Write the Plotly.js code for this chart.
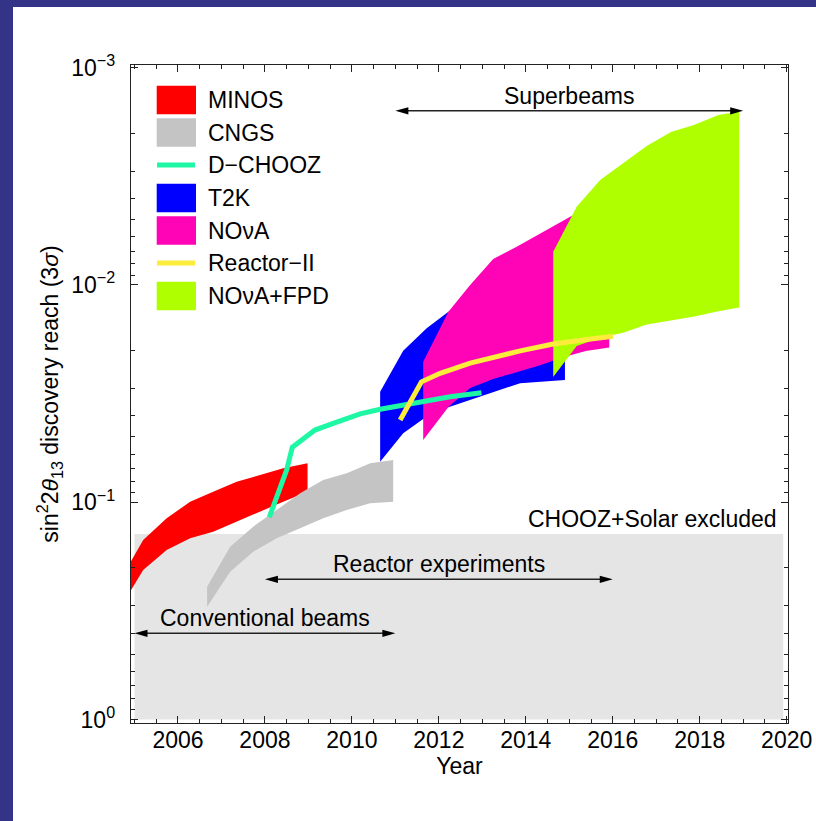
<!DOCTYPE html>
<html><head><meta charset="utf-8">
<script src="https://cdn.plot.ly/plotly-3.0.1.min.js"></script>
<style>
html,body{margin:0;padding:0;background:#fff;overflow:hidden;}
#wrap{width:803px;height:814px;border-top:7px solid #333388;border-left:13px solid #333388;}
#chart{width:803px;height:814px;}
</style></head><body><div id="wrap"><div id="chart"></div></div>
<script>
// ---------------- data ----------------
const excludedYears = [2005.0, 2019.92];
const excludedLimit = [0.14, 0.14];
const excludedMax = [1.0, 1.0];

const minosYears = [2004.90, 2005.20, 2005.74, 2006.28, 2006.81, 2007.35, 2007.89, 2008.42, 2008.98];
const minosBest  = [0.190, 0.149, 0.1185, 0.0994, 0.0894, 0.0804, 0.0749, 0.0697, 0.0662];
const minosWorst = [0.258, 0.205, 0.166, 0.1465, 0.1366, 0.1228, 0.1105, 0.0994, 0.0894];

const cngsYears = [2006.67, 2007.20, 2007.73, 2008.27, 2008.81, 2009.34, 2009.88, 2010.42, 2010.95];
const cngsBest  = [0.2446, 0.1601, 0.1295, 0.1085, 0.0909, 0.0790, 0.0736, 0.0662, 0.0639];
const cngsWorst = [0.3022, 0.2086, 0.1688, 0.1465, 0.1317, 0.1185, 0.1085, 0.1011, 0.0994];

const dchoozYears = [2008.10, 2008.31, 2008.50, 2008.63, 2009.15, 2009.57, 2010.19, 2010.65, 2011.18, 2011.72, 2012.26, 2012.98];
const dchoozReach = [0.1172, 0.0909, 0.0710, 0.0558, 0.0465, 0.0433, 0.0392, 0.0373, 0.0357, 0.0342, 0.0327, 0.0313];

const t2kYears = [2010.65, 2011.18, 2011.72, 2012.22, 2012.83, 2013.87, 2014.90];
const t2kBest  = [0.0310, 0.02006, 0.01582, 0.01327, 0.01172, 0.0100, 0.0090];
const t2kWorst = [0.0650, 0.0481, 0.0403, 0.0365, 0.0333, 0.0283, 0.0274];

const novaYears = [2011.64, 2012.22, 2012.72, 2013.25, 2013.79, 2014.33, 2014.86, 2015.38, 2015.92];
const novaBest  = [0.02254, 0.01327, 0.0100, 0.00759, 0.00666, 0.00578, 0.00502, 0.00442, 0.00398];
const novaWorst = [0.0517, 0.0364, 0.0298, 0.0271, 0.0252, 0.0234, 0.0215, 0.0201, 0.0194];

const reactor2Years = [2011.11, 2011.34, 2011.60, 2012.03, 2012.72, 2013.87, 2014.63, 2015.40, 2016.01];
const reactor2Reach = [0.0418, 0.0344, 0.0279, 0.0255, 0.0229, 0.0201, 0.0187, 0.0178, 0.0172];

const fpdYears = [2014.63, 2015.17, 2015.71, 2016.24, 2016.78, 2017.35, 2017.85, 2018.43, 2018.91];
const fpdBest  = [0.00703, 0.00436, 0.00329, 0.00275, 0.00229, 0.00197, 0.00184, 0.00165, 0.00159];
const fpdWorst = [0.0265, 0.0191, 0.0175, 0.0166, 0.0152, 0.0145, 0.0140, 0.0132, 0.0127];

const xTickVals = [2006, 2008, 2010, 2012, 2014, 2016, 2018, 2020];
const yTickVals = [0.001, 0.01, 0.1, 1];
const yTickText = ['10<sup>\u22123</sup>', '10<sup>\u22122</sup>', '10<sup>\u22121</sup>', '10<sup>0</sup>'];

const legendNames = ['MINOS', 'CNGS', 'D\u2212CHOOZ', 'T2K', 'NO\u03bdA', 'Reactor\u2212II', 'NO\u03bdA+FPD'];
const legendKinds = ['box', 'box', 'line', 'box', 'box', 'line', 'box'];

// arrows: [from year, to year, sin^2 value]
const arrowDefs = [
  {label: 'Superbeams', x0: 2011, x1: 2019, y: 0.00158},
  {label: 'Reactor experiments', x0: 2008, x1: 2016, y: 0.2262},
  {label: 'Conventional beams', x0: 2005, x1: 2011, y: 0.4007}
];

// ---------------- styling ----------------
const C = {
  excl: '#e5e5e5', minos: '#ff0000', cngs: '#c4c4c4', dchooz: '#1ef7a4',
  t2k: '#0000ff', nova: '#ff03b6', reactor: '#fcec3c', fpd: '#afff00'
};
const legendColors = [C.minos, C.cngs, C.dchooz, C.t2k, C.nova, C.reactor, C.fpd];
const FONT = 'Liberation Sans, Arial, Helvetica, sans-serif';
const FS = 23;
const Y_RANGE = [0.0157, -3.0124];
const X_RANGE = [2004.92, 2020.03];

function band(name, xs, lo, hi, color) {
  return {type: 'scatter', mode: 'lines', name: name,
    x: xs.concat(xs.slice().reverse()),
    y: lo.concat(hi.slice().reverse()),
    fill: 'toself', fillcolor: color, line: {width: 0, color: color},
    hoverinfo: 'skip', showlegend: false};
}
function curve(name, xs, ys, color) {
  return {type: 'scatter', mode: 'lines', name: name, x: xs, y: ys,
    line: {width: 5, color: color, shape: 'linear'}, hoverinfo: 'skip', showlegend: false};
}

const traces = [
  band('CHOOZ+Solar excluded', excludedYears, excludedLimit, excludedMax, C.excl),
  band('MINOS', minosYears, minosBest, minosWorst, C.minos),
  band('CNGS', cngsYears, cngsBest, cngsWorst, C.cngs),
  band('T2K', t2kYears, t2kBest, t2kWorst, C.t2k),
  band('NOvA', novaYears, novaBest, novaWorst, C.nova),
  band('NOvA+FPD', fpdYears, fpdBest, fpdWorst, C.fpd),
  curve('D-CHOOZ', dchoozYears, dchoozReach, C.dchooz),
  curve('Reactor-II', reactor2Years, reactor2Reach, C.reactor)
];

// helpers: plot-area pixel -> paper
const L = 131, T = 65, W = 657, H = 658;
const PX = p => (p - L) / W;
const PY = p => (T + H - p) / H;
const yPaper = v => (Math.log10(v) - Y_RANGE[0]) / (Y_RANGE[1] - Y_RANGE[0]);

const shapes = [];
const annotations = [];

// arrows
const headLen = 13 / (W / (X_RANGE[1] - X_RANGE[0]));
const headHalf = 3.6 / H;
arrowDefs.forEach(a => {
  const yp = yPaper(a.y);
  shapes.push({type: 'line', xref: 'x', yref: 'paper', x0: a.x0 + headLen * 0.5, x1: a.x1 - headLen * 0.5, y0: yp, y1: yp,
    line: {color: '#222', width: 1.5}});
  shapes.push({type: 'path', xref: 'x', yref: 'paper',
    path: `M${a.x1},${yp} L${a.x1 - headLen},${yp + headHalf} L${a.x1 - headLen},${yp - headHalf} Z`,
    fillcolor: '#000', line: {width: 0}});
  shapes.push({type: 'path', xref: 'x', yref: 'paper',
    path: `M${a.x0},${yp} L${a.x0 + headLen},${yp + headHalf} L${a.x0 + headLen},${yp - headHalf} Z`,
    fillcolor: '#000', line: {width: 0}});
  annotations.push({text: a.label, xref: 'x', yref: 'paper', x: (a.x0 + a.x1) / 2, y: yp + 15 / H,
    xanchor: 'center', yanchor: 'middle', showarrow: false, font: {family: FONT, size: FS, color: '#000'}});
});

annotations.push({text: 'CHOOZ+Solar excluded', xref: 'x', yref: 'paper', x: 2019.83, y: yPaper(0.14) + 15 / H,
  xanchor: 'right', yanchor: 'middle', showarrow: false, font: {family: FONT, size: FS, color: '#000'}});

// custom legend
const rowY = [100, 132.5, 165, 198, 230.5, 263, 296];
legendNames.forEach((n, i) => {
  const cy = rowY[i];
  if (legendKinds[i] === 'box') {
    shapes.push({type: 'rect', xref: 'paper', yref: 'paper', x0: PX(156.7), x1: PX(196), y0: PY(cy - 14.2), y1: PY(cy + 14.2),
      fillcolor: legendColors[i], line: {width: 0}});
  } else {
    shapes.push({type: 'line', xref: 'paper', yref: 'paper', x0: PX(157), x1: PX(195), y0: PY(cy), y1: PY(cy),
      line: {color: legendColors[i], width: 5}});
  }
  annotations.push({text: n, xref: 'paper', yref: 'paper', x: PX(206), y: PY(cy), xanchor: 'left', yanchor: 'middle',
    showarrow: false, font: {family: FONT, size: FS, color: '#000'}});
});

const minorY = [];
[0.001, 0.01, 0.1].forEach(d => { for (let k = 2; k <= 9; k++) minorY.push(+(k * d).toPrecision(3)); });

const layout = {
  width: 803, height: 814,
  margin: {l: L - 13, r: 816 - (L + W), t: T - 7, b: 821 - (T + H)},
  paper_bgcolor: '#fff', plot_bgcolor: '#fff',
  font: {family: FONT, size: FS, color: '#000'},
  showlegend: false,
  xaxis: {
    range: X_RANGE, showgrid: false, zeroline: false,
    showline: true, linecolor: '#222', linewidth: 1.3, mirror: 'allticks',
    ticks: 'inside', ticklen: 7, tickwidth: 1, tickcolor: '#222',
    tickmode: 'array', tickvals: xTickVals, ticktext: xTickVals.map(String),
    tickfont: {family: FONT, size: FS, color: '#000'},
    ticklabelstandoff: -4,
    minor: {ticks: 'inside', ticklen: 4, tickwidth: 1, tickcolor: '#222', dtick: 0.5, tick0: 2005, showgrid: false},
    title: {text: 'Year', font: {family: FONT, size: FS, color: '#000'}, standoff: 4}
  },
  yaxis: {
    type: 'log', range: Y_RANGE, showgrid: false, zeroline: false,
    showline: true, linecolor: '#222', linewidth: 1.3, mirror: 'allticks',
    ticks: 'inside', ticklen: 7, tickwidth: 1, tickcolor: '#222',
    tickmode: 'array', tickvals: yTickVals, ticktext: yTickText,
    tickfont: {family: FONT, size: FS, color: '#000'},
    ticklabelstandoff: 10,
    minor: {ticks: 'inside', ticklen: 4, tickwidth: 1, tickcolor: '#222', tickmode: 'array', tickvals: minorY, showgrid: false},
    title: {text: 'sin<sup>2</sup>2<i>\u03b8</i><sub>13</sub> discovery reach (3<i>\u03c3</i>)',
      font: {family: FONT, size: FS, color: '#000'}, standoff: 6}
  },
  shapes: shapes,
  annotations: annotations
};

Plotly.newPlot('chart', traces, layout, {staticPlot: true, displayModeBar: false});
</script></body></html>
